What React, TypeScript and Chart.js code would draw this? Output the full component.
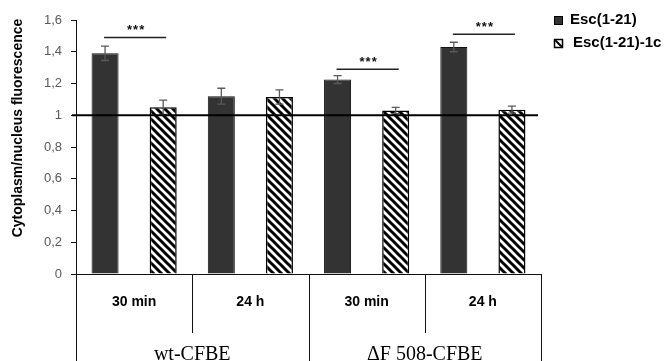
import React, { useEffect, useRef } from 'react';
import { Chart, registerables } from 'chart.js';

Chart.register(...registerables);

const categories = ['30 min', '24 h', '30 min', '24 h'];
const groups = ['wt-CFBE', 'ΔF 508-CFBE'];
const seriesNames = ['Esc(1-21)', 'Esc(1-21)-1c'];
const escValues = [1.39, 1.12, 1.225, 1.43];
const escErrors = [0.045, 0.05, 0.025, 0.03];
const esc1cValues = [1.05, 1.115, 1.03, 1.035];
const esc1cErrors = [0.045, 0.045, 0.02, 0.022];
const significanceLevels: (number | null)[] = [1.49, null, 1.29, 1.51];
const significanceLabels = ['***', '', '***', '***'];
const yTickLabels = ['0', '0,2', '0,4', '0,6', '0,8', '1', '1,2', '1,4', '1,6'];
const referenceValue = 1;
const yTitle = 'Cytoplasm/nucleus fluorescence';

const DARK = '#333333';

function makeHatch(): CanvasPattern | string {
  const c = document.createElement('canvas');
  c.width = 8;
  c.height = 8;
  const g = c.getContext('2d');
  if (!g) return '#fff';
  g.fillStyle = '#ffffff';
  g.fillRect(0, 0, 8, 8);
  g.strokeStyle = '#000000';
  g.lineWidth = 3;
  for (const k of [-8, 0, 8]) {
    g.beginPath();
    g.moveTo(k - 2, -2);
    g.lineTo(k + 10, 10);
    g.stroke();
  }
  const p = g.createPattern(c, 'repeat');
  return p || '#fff';
}

export default function App() {
  const ref = useRef<HTMLCanvasElement | null>(null);

  useEffect(() => {
    document.body.style.margin = '0';
    const canvas = ref.current;
    if (!canvas) return;
    const hatch = makeHatch();

    const overlay = {
      id: 'overlay',
      afterDatasetsDraw(chart: any) {
        const ctx = chart.ctx as CanvasRenderingContext2D;
        const area = chart.chartArea;
        const y = chart.scales.y;
        const H = chart.height;
        const metaA = chart.getDatasetMeta(0);
        const metaB = chart.getDatasetMeta(1);
        const zeroY = y.getPixelForValue(0);
        ctx.save();

        // error bars
        const drawErr = (x: number, v: number, e: number) => {
          const yt = y.getPixelForValue(v + e);
          const yb = y.getPixelForValue(v - e);
          ctx.strokeStyle = '#5a5a5a';
          ctx.lineWidth = 1.3;
          ctx.beginPath();
          ctx.moveTo(x, yt);
          ctx.lineTo(x, yb);
          ctx.moveTo(x - 4, yt);
          ctx.lineTo(x + 4, yt);
          ctx.moveTo(x - 4, yb);
          ctx.lineTo(x + 4, yb);
          ctx.stroke();
        };
        categories.forEach((_, i) => {
          drawErr(metaA.data[i].x, escValues[i], escErrors[i]);
          drawErr(metaB.data[i].x, esc1cValues[i], esc1cErrors[i]);
        });

        // reference line
        const ry = y.getPixelForValue(referenceValue);
        ctx.strokeStyle = '#000';
        ctx.lineWidth = 2;
        ctx.beginPath();
        ctx.moveTo(area.left - 4, ry);
        ctx.lineTo(area.right - 3, ry);
        ctx.stroke();

        // zero line + table
        ctx.strokeStyle = '#111';
        ctx.lineWidth = 1;
        ctx.beginPath();
        ctx.moveTo(area.left - 5, Math.round(zeroY) + 0.5);
        ctx.lineTo(area.right, Math.round(zeroY) + 0.5);
        ctx.stroke();
        const cw = (area.right - area.left) / categories.length;
        for (let i = 0; i <= categories.length; i++) {
          const x = Math.round(area.left + i * cw) + 0.5;
          const bottom = i % 2 === 0 ? H : 333;
          ctx.beginPath();
          ctx.moveTo(x, zeroY);
          ctx.lineTo(x, bottom);
          ctx.stroke();
        }
        ctx.fillStyle = '#000';
        ctx.textAlign = 'center';
        ctx.textBaseline = 'alphabetic';
        ctx.font = 'bold 14px "Liberation Sans", Arial, sans-serif';
        categories.forEach((c, i) => {
          ctx.fillText(c, area.left + (i + 0.5) * cw, 306);
        });
        ctx.font = '20px "Liberation Serif", "Times New Roman", serif';
        groups.forEach((g, i) => {
          ctx.fillText(g, area.left + (i * 2 + 1) * cw, 360);
        });

        // significance
        significanceLevels.forEach((lv, i) => {
          if (lv === null) return;
          const x1 = metaA.data[i].x - 1;
          const x2 = metaB.data[i].x + 3;
          const ly = y.getPixelForValue(lv);
          ctx.strokeStyle = '#222';
          ctx.lineWidth = 1.5;
          ctx.beginPath();
          ctx.moveTo(x1, ly);
          ctx.lineTo(x2, ly);
          ctx.stroke();
          ctx.font = 'bold 13px "Liberation Sans", Arial, sans-serif';
          (ctx as any).letterSpacing = '1px';
          ctx.fillStyle = '#111';
          ctx.fillText(significanceLabels[i], (x1 + x2) / 2 + 1, ly - 3);
          (ctx as any).letterSpacing = '0px';
        });

        // y axis extension and title
        ctx.strokeStyle = '#111';
        ctx.lineWidth = 1;
        ctx.beginPath();
        ctx.moveTo(Math.round(area.left) + 0.5, area.top);
        ctx.lineTo(Math.round(area.left) + 0.5, H);
        ctx.stroke();

        ctx.save();
        ctx.translate(18, 128);
        ctx.rotate(-Math.PI / 2);
        ctx.font = 'bold 14px "Liberation Sans", Arial, sans-serif';
        ctx.fillStyle = '#000';
        ctx.textAlign = 'center';
        ctx.textBaseline = 'middle';
        ctx.fillText(yTitle, 0, 0);
        ctx.restore();

        // legend
        const lx = 554;
        const ly0 = 16;
        ctx.fillStyle = DARK;
        ctx.fillRect(lx, ly0, 8, 8);
        ctx.strokeStyle = '#000';
        ctx.lineWidth = 1;
        ctx.strokeRect(lx + 0.5, ly0 + 0.5, 8, 8);
        const ly1 = 39;
        ctx.fillStyle = '#fff';
        ctx.fillRect(lx, ly1, 8, 8);
        ctx.lineWidth = 1.5;
        ctx.strokeRect(lx + 0.5, ly1 + 0.5, 8, 8);
        ctx.lineWidth = 2;
        ctx.beginPath();
        ctx.moveTo(lx + 1, ly1 + 1);
        ctx.lineTo(lx + 8, ly1 + 8);
        ctx.stroke();
        ctx.font = 'bold 15px "Liberation Sans", Arial, sans-serif';
        ctx.fillStyle = '#000';
        ctx.textAlign = 'left';
        ctx.textBaseline = 'middle';
        ctx.fillText(seriesNames[0], 570, ly0 + 4);
        ctx.fillText(seriesNames[1], 573, ly1 + 4);

        ctx.restore();
      },
    };

    const chart = new Chart(canvas, {
      type: 'bar',
      data: {
        labels: categories,
        datasets: [
          {
            label: seriesNames[0],
            data: escValues,
            backgroundColor: DARK,
            borderColor: '#111',
            borderWidth: 1,
          },
          {
            label: seriesNames[1],
            data: esc1cValues,
            backgroundColor: hatch as any,
            borderColor: '#000',
            borderWidth: 1.5,
          },
        ],
      },
      options: {
        responsive: false,
        animation: false,
        devicePixelRatio: 1,
        layout: { padding: { top: 20, bottom: 87, right: 123, left: 0 } },
        datasets: {
          bar: { categoryPercentage: 1.0, barPercentage: 0.465 },
        },
        plugins: {
          legend: { display: false },
          tooltip: { enabled: false },
          title: { display: false },
        },
        scales: {
          x: { display: false },
          y: {
            min: 0,
            max: 1.6,
            afterFit: (s: any) => {
              s.width = 76;
            },
            grid: {
              drawOnChartArea: false,
              drawTicks: true,
              tickLength: 5,
              color: '#111',
            },
            border: { display: true, color: '#111', width: 1 },
            ticks: {
              stepSize: 0.2,
              padding: 9,
              color: '#595959',
              font: { family: '"Liberation Sans", Arial, sans-serif', size: 13 },
              callback: (_v: any, i: number) => yTickLabels[i],
            },
          },
        },
      },
      plugins: [overlay],
    });

    return () => chart.destroy();
  }, []);

  return (
    <div style={{ width: 664, height: 361 }}>
      <canvas ref={ref} width={664} height={361} style={{ display: 'block' }} />
    </div>
  );
}
